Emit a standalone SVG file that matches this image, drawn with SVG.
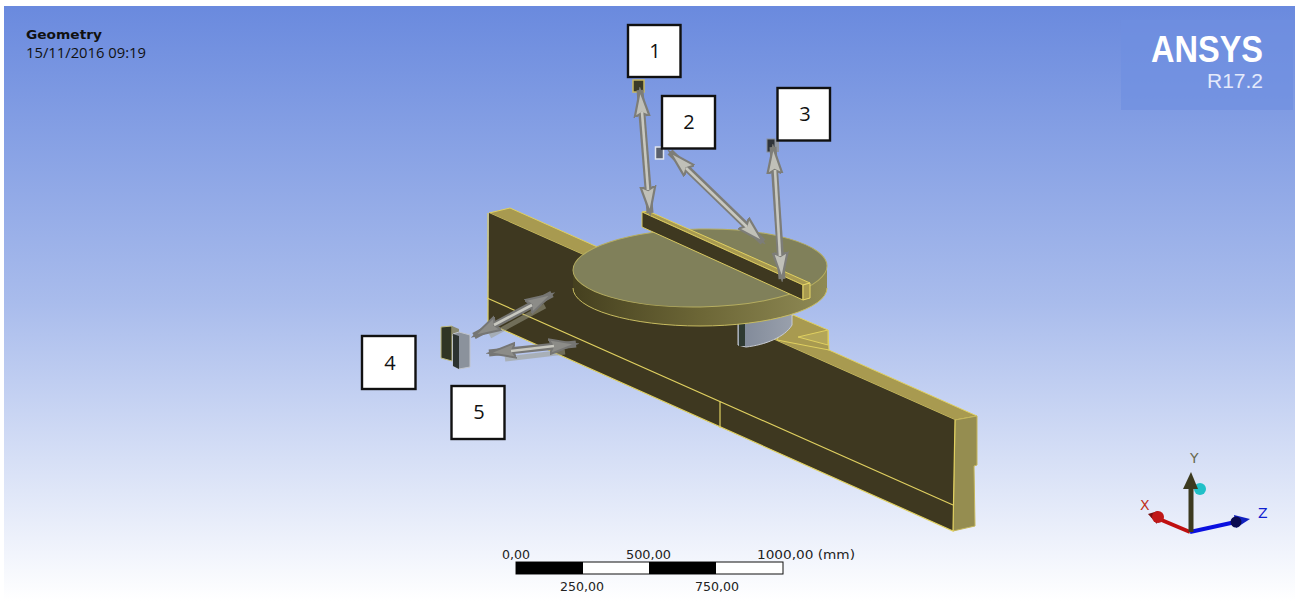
<svg xmlns="http://www.w3.org/2000/svg" width="1303" height="607" viewBox="0 0 1303 607">
<style>
.lbl{fill:#fff;stroke:#111;stroke-width:2.4}
.num{font:20px "Open Sans","Liberation Sans",sans-serif;fill:#111;text-anchor:middle}
.sc{font:13px "DejaVu Sans","Liberation Sans",sans-serif;fill:#222}
.out{stroke:#7d7d78;stroke-width:7;marker-start:url(#h);marker-end:url(#h)}
.out2{stroke:#767674;stroke-width:7;marker-start:url(#h2);marker-end:url(#h2)}
.inn{stroke:#c8c8c0;stroke-width:2.6}
.dark{fill:#3e3820}
.ed{fill:none;stroke:#e0d060;stroke-width:1.2}
</style>
<defs>
<linearGradient id="bg" x1="0" y1="0" x2="0" y2="1"><stop offset="0" stop-color="#6a8ade"/><stop offset=".5" stop-color="#a9bcec"/><stop offset="1" stop-color="#ffffff"/></linearGradient>
<linearGradient id="band" x1="0" y1="0" x2="1" y2="0"><stop offset="0" stop-color="#45401f"/><stop offset=".5" stop-color="#6c6636"/><stop offset="1" stop-color="#8f8a55"/></linearGradient>
<linearGradient id="sup" x1="0" y1="0" x2="1" y2="0"><stop offset="0" stop-color="#7f8898"/><stop offset="1" stop-color="#99a0ac"/></linearGradient>
<marker id="h" markerUnits="userSpaceOnUse" markerWidth="30" markerHeight="20" refX="27" refY="9" orient="auto-start-reverse" viewBox="0 0 30 18"><path d="M27 9L0 1.500L4 9L0 16.500Z" fill="#c0c0b8" stroke="#7d7d78" stroke-width="2.200"/></marker>
<marker id="h2" markerUnits="userSpaceOnUse" markerWidth="30" markerHeight="20" refX="27" refY="9" orient="auto-start-reverse" viewBox="0 0 30 18"><path d="M27 9L0 1.500L4 9L0 16.500Z" fill="#8c8c88" stroke="#767674" stroke-width="2"/></marker>
</defs>
<rect width="1303" height="607" fill="#fff"/>
<rect x="4" y="6" width="1291" height="595" fill="url(#bg)"/>
<rect x="1121" y="20" width="172" height="90" fill="#6f8fe0" opacity=".65"/>
<g id="title">
<text x="26" y="39" font-family="'DejaVu Sans','Liberation Sans',sans-serif" font-size="12.500" font-weight="700" fill="#111" textLength="76" lengthAdjust="spacingAndGlyphs">Geometry</text>
<text x="26" y="58" font-family="'Open Sans','Liberation Sans',sans-serif" font-size="14" fill="#111" textLength="120" lengthAdjust="spacingAndGlyphs">15/11/2016 09:19</text>
</g>
<g id="logo" fill="#fff" font-family="'Liberation Sans',sans-serif" text-anchor="end">
<text x="1263" y="62" font-size="36" font-weight="700" textLength="112" lengthAdjust="spacingAndGlyphs">ANSYS</text>
<text x="1263" y="88" font-size="20" fill="#e4eafb" textLength="56" lengthAdjust="spacingAndGlyphs">R17.2</text>
</g>
<g id="beam">
<path d="M489 213L510 208L977 416L955 420Z" fill="#a89a50" stroke="#e0d060"/>
<path d="M777 340L785 322L793 315L828 330L829 350Z" fill="#a89a50" stroke="#e0d060"/>
<path d="M798 337L828 330V345Z" fill="#b3a658" stroke="#e0d060"/>
<path d="M955 420L977 416L977 465L974 466L975 526L953 531Z" fill="#958d50" stroke="#c4b65c"/>
<path d="M489 213L955 420L953 531L488 323Z" class="dark"/>
<path d="M488 213V323L953 531L955 420" class="ed"/>
<path d="M487 298L953 505M720 401V428" class="ed"/>
</g>
<g id="support">
<path d="M738 322V345L746 347C765 345 785 337 792 325V312Z" fill="url(#sup)" stroke="#c8ccd4"/>
<path d="M739 323H745V346H739Z" fill="#2f3a32"/>
</g>
<g id="disc">
<path d="M573 268V288A127 38 0 0 0 827 288V268Z" fill="url(#band)"/>
<path d="M573 288A127 38 0 0 0 827 288" fill="none" stroke="#c8bc60"/>
<ellipse cx="700" cy="268" rx="127" ry="39" fill="#80805a" stroke="#b5ad60" transform="rotate(-1 700 268)"/>
</g>
<g id="bar">
<path d="M642 212L648 211L810 283L803 285Z" fill="#a89a50" stroke="#e0d060"/>
<path d="M642 212L803 285V300L642 227Z" class="dark" stroke="#d8c860"/>
<path d="M803 285L810 283V298L803 300Z" fill="#a89a50" stroke="#e8d868"/>
</g>
<g id="probe-1"><rect x="633" y="80" width="11" height="12" fill="#3a3a26" stroke="#c8b860" stroke-width="1.500"/></g>
<g id="probe-2"><rect x="655.500" y="147" width="8" height="12" fill="#5a606c" stroke="#dfe4ee" stroke-width="1.500"/></g>
<g id="probe-3"><rect x="767" y="139" width="8" height="13" fill="#30343a" stroke="#8a9098"/><rect x="775" y="140" width="4" height="12" fill="#8f95a0"/></g>
<g id="probe-4"><path d="M441 327L452 326V361L441 358Z" fill="#303524" stroke="#c0bc80"/><path d="M452 326L459 329V336H452Z" fill="#8a8a70"/></g>
<g id="probe-5"><path d="M453 334L459 332L470 335V367L459 369L453 366Z" fill="#8b929c" stroke="#c0c4cc"/><path d="M453 334L459 336V369L453 366Z" fill="#2c3330"/></g>
<g id="connectors" fill="none">
<path d="M490 336L545 306" stroke="#9a9a88" stroke-width="5" opacity=".55"/>
<path d="M505 359L565 352" stroke="#9a9a88" stroke-width="5" opacity=".55"/>
<line class="out" x1="640" y1="90" x2="650" y2="213"/><line class="inn" x1="642" y1="112" x2="648" y2="190"/>
<line class="out" x1="670" y1="152" x2="763" y2="242"/><line class="inn" x1="686" y1="168" x2="747" y2="227"/>
<line class="out" x1="773" y1="147" x2="782" y2="279"/><line class="inn" x1="775" y1="170" x2="780" y2="256"/>
<line class="out2" x1="552" y1="294" x2="474" y2="336"/><line class="inn" x1="532" y1="305" x2="494" y2="325"/>
<line class="out2" x1="576" y1="344" x2="489" y2="353"/><line class="inn" x1="554" y1="346" x2="511" y2="351"/>
</g>
<g id="label-1"><rect class="lbl" x="628" y="25" width="52.500" height="52"/><text class="num" x="655" y="58">1</text></g>
<g id="label-2"><rect class="lbl" x="662" y="96" width="53" height="52.500"/><text class="num" x="689" y="129">2</text></g>
<g id="label-3"><rect class="lbl" x="777.500" y="88" width="52.500" height="52.500"/><text class="num" x="805" y="121">3</text></g>
<g id="label-4"><rect class="lbl" x="362" y="336" width="53.500" height="53"/><text class="num" x="390" y="370">4</text></g>
<g id="label-5"><rect class="lbl" x="451.500" y="386" width="53" height="53"/><text class="num" x="479" y="419">5</text></g>
<g id="scale">
<rect x="516" y="562" width="267" height="12" fill="#fff" stroke="#111"/>
<rect x="516" y="562" width="67" height="12" fill="#000"/><rect x="649" y="562" width="67" height="12" fill="#000"/>
<text class="sc" x="502" y="559" textLength="28" lengthAdjust="spacingAndGlyphs">0,00</text>
<text class="sc" x="626" y="559" textLength="45" lengthAdjust="spacingAndGlyphs">500,00</text>
<text class="sc" x="757" y="559" textLength="98" lengthAdjust="spacingAndGlyphs">1000,00 (mm)</text>
<text class="sc" x="560" y="591" textLength="44" lengthAdjust="spacingAndGlyphs">250,00</text>
<text class="sc" x="695" y="591" textLength="44" lengthAdjust="spacingAndGlyphs">750,00</text>
</g>
<g id="triad" font-family="'DejaVu Sans','Liberation Sans',sans-serif" font-size="14">
<path d="M1190 532L1152 516" stroke="#c01010" stroke-width="4"/>
<path d="M1148 514L1158 511L1157 524Z" fill="#7a1010"/><circle cx="1158" cy="517" r="6" fill="#c01818"/>
<path d="M1190 532L1240 521" stroke="#0a10e0" stroke-width="4"/>
<path d="M1250 519L1234 515L1236 528Z" fill="#1020c0"/><circle cx="1236" cy="522" r="5.500" fill="#0a0a50"/>
<path d="M1191 532V485" stroke="#3c3a20" stroke-width="5"/>
<circle cx="1200" cy="489" r="6" fill="#20c0c8"/>
<path d="M1191 472L1183 489H1198Z" fill="#3c3a20"/>
<text x="1140" y="510" fill="#c03020">X</text>
<text x="1190" y="463" fill="#6a6a50">Y</text>
<text x="1258" y="518" fill="#1020d0">Z</text>
</g>
</svg>
